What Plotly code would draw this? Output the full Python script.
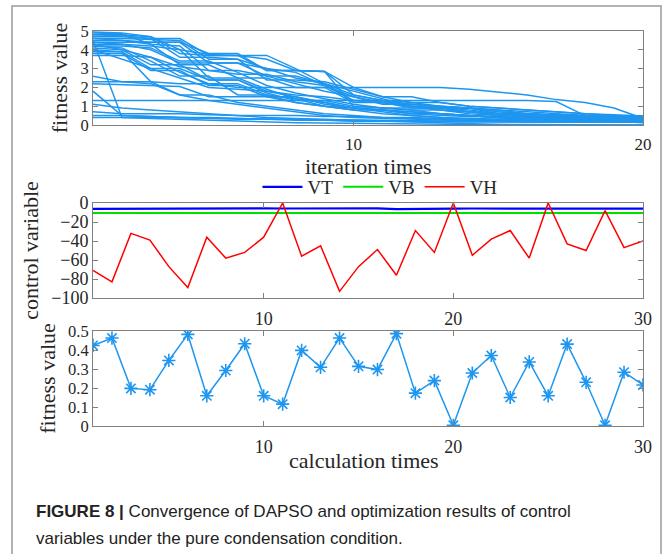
import plotly.graph_objects as go

# ---------------- data ----------------
iter_x = list(range(1, 21))
runs_x = list(range(1, 31))

conv_curves = [
    [4.9, 4.85, 4.3, 3.2, 3.2, 2.5, 2.5, 2.0, 2.0, 1.2, 1.2, 0.9, 0.9, 0.9, 0.6, 0.6, 0.5, 0.45, 0.43, 0.42],
    [4.8, 4.75, 4.6, 4.6, 3.7, 3.7, 2.9, 2.9, 2.85, 1.0, 0.9, 0.8, 0.8, 0.7, 0.6, 0.6, 0.5, 0.5, 0.47, 0.46],
    [4.5, 0.4, 0.4, 0.38, 0.35, 0.33, 0.3, 0.3, 0.28, 0.25, 0.23, 0.22, 0.21, 0.2, 0.2, 0.2, 0.2, 0.2, 0.2, 0.2],
    [4.2, 4.1, 3.4, 2.6, 2.6, 1.6, 1.6, 1.4, 1.0, 0.8, 0.8, 0.6, 0.6, 0.5, 0.4, 0.3, 0.25, 0.2, 0.19, 0.19],
    [2.6, 2.3, 2.3, 2.2, 2.2, 2.0, 2.0, 2.0, 2.0, 2.0, 2.0, 2.0, 2.0, 1.9, 1.75, 1.6, 1.35, 1.2, 0.9, 0.35],
    [4.6, 4.6, 4.55, 4.5, 3.5, 3.5, 2.4, 2.4, 2.3, 1.9, 1.5, 1.5, 1.2, 1.0, 0.9, 0.8, 0.7, 0.6, 0.55, 0.48],
    [1.8, 0.5, 0.45, 0.4, 0.4, 0.35, 0.3, 0.3, 0.25, 0.22, 0.2, 0.2, 0.18, 0.17, 0.16, 0.16, 0.16, 0.16, 0.16, 0.16],
    [4.0, 3.9, 3.0, 3.0, 2.4, 2.4, 1.8, 1.6, 1.5, 1.3, 1.3, 1.0, 0.8, 0.7, 0.6, 0.5, 0.4, 0.35, 0.3, 0.29],
    [4.4, 4.4, 4.4, 4.4, 3.3, 3.3, 3.0, 2.5, 2.2, 1.3, 1.2, 1.1, 1.0, 0.9, 0.8, 0.7, 0.6, 0.5, 0.45, 0.43],
    [3.8, 3.8, 2.9, 2.9, 2.1, 2.1, 1.5, 1.5, 1.1, 0.9, 0.7, 0.5, 0.4, 0.3, 0.25, 0.2, 0.18, 0.17, 0.16, 0.16],
    [1.3, 1.3, 1.3, 1.3, 1.3, 1.3, 1.3, 1.3, 1.3, 1.3, 1.3, 1.3, 1.3, 1.3, 1.3, 1.3, 1.25, 0.5, 0.2, 0.12],
    [4.7, 4.7, 4.6, 3.6, 3.6, 3.5, 3.0, 2.8, 2.1, 1.3, 1.2, 1.0, 0.9, 0.9, 0.7, 0.6, 0.5, 0.45, 0.42, 0.40],
    [4.3, 4.0, 3.6, 3.1, 2.9, 2.9, 2.6, 2.2, 1.8, 1.5, 1.2, 1.0, 0.8, 0.6, 0.5, 0.45, 0.4, 0.35, 0.32, 0.31],
    [4.95, 4.9, 4.7, 4.0, 3.75, 3.7, 3.7, 3.0, 2.2, 1.6, 1.3, 1.1, 1.0, 0.9, 0.7, 0.6, 0.55, 0.5, 0.48, 0.46],
    [2.2, 2.15, 2.1, 2.05, 1.5, 1.5, 1.5, 1.2, 1.0, 0.9, 0.8, 0.6, 0.5, 0.45, 0.4, 0.35, 0.33, 0.32, 0.32, 0.31],
    [0.7, 0.6, 0.6, 0.6, 0.55, 0.5, 0.5, 0.5, 0.45, 0.45, 0.4, 0.4, 0.35, 0.35, 0.3, 0.3, 0.3, 0.3, 0.3, 0.3],
    [4.6, 4.5, 4.4, 4.4, 3.8, 3.8, 2.9, 2.9, 2.85, 2.0, 1.5, 1.2, 1.2, 1.0, 0.9, 0.8, 0.7, 0.6, 0.5, 0.49],
    [3.9, 3.9, 2.3, 1.6, 1.6, 1.2, 1.0, 0.8, 0.6, 0.5, 0.4, 0.35, 0.3, 0.25, 0.2, 0.18, 0.17, 0.17, 0.17, 0.17],
    [4.3, 4.3, 4.2, 4.0, 2.5, 2.5, 1.9, 1.4, 1.2, 0.9, 0.8, 0.7, 0.6, 0.5, 0.4, 0.3, 0.28, 0.26, 0.24, 0.24],
    [1.1, 0.9, 0.8, 0.7, 0.6, 0.5, 0.4, 0.35, 0.3, 0.25, 0.2, 0.15, 0.1, 0.05, 0.03, 0.02, 0.01, 0.01, 0.0, 0.0],
    [4.0, 3.5, 3.0, 2.5, 2.0, 1.9, 1.8, 1.5, 1.2, 0.9, 0.8, 0.7, 0.6, 0.5, 0.45, 0.4, 0.35, 0.3, 0.29, 0.28],
    [4.5, 4.5, 4.3, 4.2, 2.9, 2.7, 2.7, 2.3, 2.1, 1.5, 1.1, 1.1, 0.95, 0.8, 0.6, 0.5, 0.45, 0.4, 0.38, 0.37],
    [2.3, 2.3, 2.2, 1.6, 1.3, 1.1, 0.9, 0.7, 0.5, 0.4, 0.35, 0.3, 0.25, 0.2, 0.18, 0.16, 0.15, 0.15, 0.15, 0.15],
    [4.4, 4.3, 4.0, 3.3, 3.3, 3.3, 2.6, 2.6, 2.2, 1.8, 1.4, 1.0, 0.9, 0.7, 0.5, 0.45, 0.4, 0.36, 0.34, 0.34],
    [0.5, 0.5, 0.45, 0.4, 0.35, 0.3, 0.3, 0.25, 0.25, 0.2, 0.2, 0.18, 0.17, 0.16, 0.16, 0.16, 0.16, 0.16, 0.16, 0.16],
    [4.8, 4.8, 4.7, 3.8, 3.7, 3.7, 3.5, 2.9, 2.85, 1.6, 1.3, 1.2, 1.0, 0.9, 0.8, 0.6, 0.5, 0.45, 0.44, 0.43],
    [3.7, 3.7, 3.6, 2.8, 2.2, 2.2, 1.6, 1.2, 1.0, 0.8, 0.6, 0.5, 0.4, 0.35, 0.3, 0.27, 0.25, 0.24, 0.23, 0.23],
    [0.4, 0.4, 0.35, 0.3, 0.25, 0.2, 0.15, 0.12, 0.1, 0.08, 0.06, 0.05, 0.04, 0.03, 0.02, 0.01, 0.01, 0.0, 0.0, 0.0],
    [4.2, 4.2, 4.1, 3.4, 3.4, 2.8, 2.1, 1.7, 1.4, 1.1, 0.9, 0.9, 0.9, 0.7, 0.6, 0.5, 0.4, 0.32, 0.29, 0.28],
    [4.1, 4.0, 3.2, 3.2, 2.4, 2.4, 1.7, 1.3, 1.3, 1.0, 0.9, 0.8, 0.6, 0.5, 0.4, 0.3, 0.25, 0.22, 0.22, 0.22],
]

vt = [-6.2, -6.1, -6.0, -5.9, -5.9, -5.8, -5.7, -5.5, -5.2, -5.6, -5.8, -5.8, -5.7, -5.8, -5.9,
      -5.7, -6.5, -6.1, -5.9, -5.9, -5.8, -5.8, -5.8, -5.9, -6.0, -6.0, -6.0, -6.0, -6.0, -6.0]
vb = [-10.6, -10.6, -10.6, -10.6, -10.6, -10.6, -10.6, -10.6, -10.6, -10.6, -10.6, -10.6, -10.6, -10.6, -10.6,
      -10.6, -10.6, -10.6, -10.6, -10.6, -10.6, -10.6, -10.6, -10.6, -10.6, -10.6, -10.6, -10.6, -10.6, -10.6]
vh = [-71, -83, -32, -39, -67, -89, -36, -58, -52, -36, 0, -56, -45, -93, -67,
      -49, -76, -29, -52, 0, -55, -38, -29, -58, 0, -43, -50, -8, -47, -40]

final_fitness = [0.424, 0.463, 0.198, 0.191, 0.345, 0.482, 0.159, 0.292, 0.433, 0.159,
                 0.115, 0.398, 0.309, 0.463, 0.314, 0.297, 0.486, 0.173, 0.239, 0.004,
                 0.279, 0.371, 0.150, 0.337, 0.159, 0.431, 0.230, 0.004, 0.283, 0.216]

x1_ticks = [10, 20]
x23_ticks = [10, 20, 30]
y1_ticks = [0, 1, 2, 3, 4, 5]
y2_ticks = [-100, -80, -60, -40, -20, 0]
y3_ticks = [0, 0.1, 0.2, 0.3, 0.4, 0.5]
y3_ticktext = ["0", "0.1", "0.2", "0.3", "0.4", "0.5"]

# ---------------- figure ----------------
W, H = 665, 554
L, R, T, B = 93, 643, 31, 426
pw, ph = R - L, B - T


def px_x(x):
    return (x - L) / pw


def px_y(y):
    return (B - y) / ph


BLUE = "#1E96F0"
SERIF = "Liberation Serif"
TXT = "#262626"
AXC = "#808080"

fig = go.Figure()
for c in conv_curves:
    fig.add_trace(go.Scatter(x=iter_x, y=c, mode="lines", line=dict(color=BLUE, width=1.5),
                             showlegend=False, hoverinfo="skip", xaxis="x", yaxis="y"))

fig.add_trace(go.Scatter(x=runs_x, y=vt, mode="lines", name="VT",
                         line=dict(color="#0000FF", width=2.2), xaxis="x2", yaxis="y2"))
fig.add_trace(go.Scatter(x=runs_x, y=vb, mode="lines", name="VB",
                         line=dict(color="#00E000", width=2), xaxis="x2", yaxis="y2"))
fig.add_trace(go.Scatter(x=runs_x, y=vh, mode="lines", name="VH",
                         line=dict(color="#FF0000", width=1.5), xaxis="x2", yaxis="y2"))

fig.add_trace(go.Scatter(x=runs_x, y=final_fitness, mode="lines+markers", showlegend=False,
                         line=dict(color=BLUE, width=1.5),
                         marker=dict(symbol="asterisk-open", size=11, color=BLUE,
                                     line=dict(color=BLUE, width=1.6)),
                         xaxis="x3", yaxis="y3"))

axis_common = dict(showline=True, linecolor=AXC, linewidth=1, mirror="ticks", ticks="inside",
                   ticklen=5, tickcolor=AXC, showgrid=False, zeroline=False,
                   tickfont=dict(family=SERIF, size=18, color=TXT))
ytick_small = dict(family=SERIF, size=16.5, color=TXT)
title_font = dict(family=SERIF, size=22, color=TXT)

d1 = [px_y(125), 1.0]
d2 = [px_y(298), px_y(203)]
d3 = [0.0, px_y(331)]

fig.update_layout(
    width=W, height=H,
    margin=dict(l=L, r=W - R, t=T, b=H - B),
    paper_bgcolor="white", plot_bgcolor="white",
    xaxis=dict(axis_common, domain=[0, 1], range=[1, 20], tickvals=x1_ticks, anchor="y",
               tickfont=dict(family=SERIF, size=17, color=TXT), ticklabelstandoff=4),
    yaxis=dict(axis_common, domain=d1, range=[0, 5], tickvals=y1_ticks, anchor="x",
               tickfont=ytick_small,
               title=dict(text="fitness value", font=title_font, standoff=6)),
    xaxis2=dict(axis_common, domain=[0, 1], range=[1, 30], tickvals=x23_ticks, anchor="y2",
                ticklabelstandoff=4),
    yaxis2=dict(axis_common, domain=d2, range=[-100, 0], tickvals=y2_ticks, anchor="x2",
                title=dict(text="control variable", font=title_font, standoff=6)),
    xaxis3=dict(axis_common, domain=[0, 1], range=[1, 30], tickvals=x23_ticks, anchor="y3",
                ticklabelstandoff=4),
    yaxis3=dict(axis_common, domain=d3, range=[0, 0.5], tickvals=y3_ticks, ticktext=y3_ticktext,
                anchor="x3", tickfont=ytick_small,
                title=dict(text="fitness value", font=title_font, standoff=6)),
    legend=dict(orientation="h", x=px_x(380), xanchor="center", y=px_y(187), yanchor="middle",
                font=dict(family=SERIF, size=19, color=TXT), bgcolor="rgba(0,0,0,0)",
                itemwidth=40, tracegroupgap=0),
    showlegend=True,
)

# outer frame
fig.add_shape(type="rect", xref="paper", yref="paper",
              x0=px_x(12), x1=px_x(661), y0=px_y(600), y1=px_y(6),
              line=dict(color="#9a9a9a", width=1.5), fillcolor="rgba(0,0,0,0)", layer="below")

# x-axis titles
fig.add_annotation(text="iteration times", xref="paper", yref="paper", x=px_x(368), y=px_y(167),
                   xanchor="center", yanchor="middle", showarrow=False, font=title_font)
fig.add_annotation(text="calculation times", xref="paper", yref="paper", x=px_x(364), y=px_y(460),
                   xanchor="center", yanchor="middle", showarrow=False, font=title_font)

# caption
cap_font = dict(family="Liberation Sans", size=17, color="#222222")
fig.add_annotation(text="<b>FIGURE 8 |</b> Convergence of DAPSO and optimization results of control",
                   xref="paper", yref="paper", x=px_x(34), y=px_y(511), xanchor="left", yanchor="middle",
                   showarrow=False, font=cap_font)
fig.add_annotation(text="variables under the pure condensation condition.",
                   xref="paper", yref="paper", x=px_x(34), y=px_y(538), xanchor="left", yanchor="middle",
                   showarrow=False, font=cap_font)

fig.write_html("out.html", config={"displayModeBar": False},
               post_script="document.body.style.margin='0';document.body.style.overflow='hidden';")
